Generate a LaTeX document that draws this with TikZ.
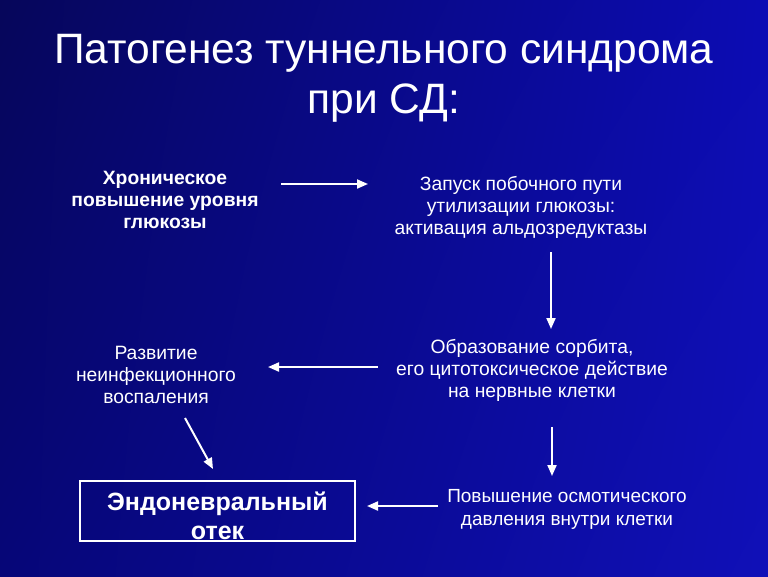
\documentclass[tikz,border=0pt]{standalone}
\usepackage{fontspec}
\setmainfont{Liberation Sans}
\usetikzlibrary{arrows.meta,shadings}
\definecolor{bgul}{HTML}{06065A}
\definecolor{bgur}{HTML}{0C0CB4}
\definecolor{bgll}{HTML}{060678}
\definecolor{bglr}{HTML}{1010B8}
\tikzset{
  txt/.style = {align=center, inner sep=0pt, text=white,
    font=\fontsize{19.3}{22}\selectfont},
  btxt/.style = {txt, font=\fontsize{19.3}{22}\selectfont\bfseries},% bold text
  bx/.style = {draw=white, line width=2pt, minimum width=275pt,
    minimum height=60pt}% box
}

\begin{document}
\begin{tikzpicture}[x=1pt,y=-1pt,->,>={Triangle[length=11pt,width=9pt]},
  link/.style={white,line width=2pt}]
\shade[upper left=bgul, upper right=bgur, lower left=bgll, lower right=bglr]
  (0,0) rectangle (768,576);
\useasboundingbox (0,0) rectangle (768,576);
\node [txt, font=\fontsize{42.5}{50}\selectfont] (title) at (384,78)
  {Патогенез туннельного синдрома\\при СД:};
\node [btxt] (glu) at (165,200) {Хроническое\\повышение уровня\\глюкозы};
\node [txt] (ald) at (521,207) {Запуск побочного пути\\утилизации глюкозы:\\активация альдозредуктазы};
\node [txt] (sorb) at (532,370) {Образование сорбита,\\его цитотоксическое действие\\на нервные клетки};
\node [txt] (infl) at (156,375) {Развитие\\неинфекционного\\воспаления};
\node [txt, font=\fontsize{19}{23}\selectfont] (osm) at (567,509) {Повышение осмотического\\давления внутри клетки};
\node [bx] (edema) at (217.5,511) {};
\node [btxt, font=\fontsize{25}{29}\selectfont\bfseries] (edtxt) at (217.5,516) {Эндоневральный\\отек};
% arrows
\coordinate (a1) at (281,184);
\coordinate (a2) at (368,184);
\draw [link] (a1) -- (a2);
\coordinate (b1) at (551,252);
\coordinate (b2) at (551,329);
\draw [link] (b1) -- (b2);
\coordinate (c1) at (378,367);
\coordinate (c2) at (268,367);
\draw [link] (c1) -- (c2);
\coordinate (d1) at (185,418);
\coordinate (d2) at (213,469);
\draw [link] (d1) -- (d2);
\coordinate (e1) at (552,427);
\coordinate (e2) at (552,476);
\draw [link] (e1) -- (e2);
\coordinate (f1) at (438,506);
\coordinate (f2) at (367,506);
\draw [link] (f1) -- (f2);
\end{tikzpicture}
\end{document}
